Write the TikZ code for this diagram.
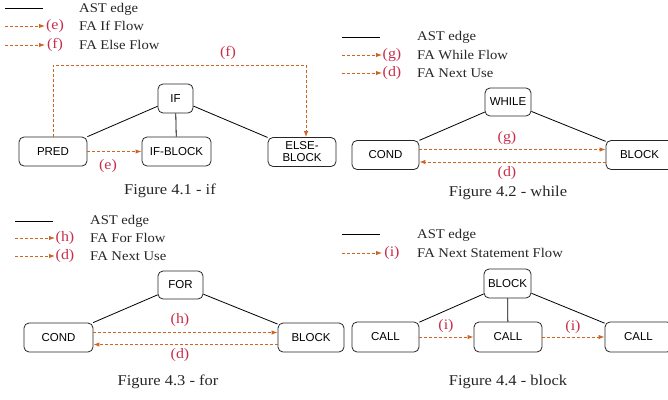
\documentclass[tikz,border=0pt]{standalone}
\usepackage{fontspec}
\setmainfont[FakeStretch=1.1]{Liberation Serif}
\newfontfamily\nodefont{Liberation Sans}
\usetikzlibrary{arrows.meta,calc}
\definecolor{flowcol}{RGB}{206,100,36}
\definecolor{labcol}{RGB}{200,45,75}
\tikzset{
  astnode/.style={draw=black!85, line width=0.8pt, rounded corners=5pt,
    minimum height=29pt, inner sep=1pt, font=\nodefont\fontsize{11.5}{12}\selectfont},
  astedge/.style={draw=black, line width=0.8pt},
  faflow/.style={draw=flowcol, line width=1pt, dash pattern=on 3pt off 2pt,
    -{Latex[length=6pt,width=4.5pt]}},
  flab/.style={text=labcol, font=\fontsize{14.5}{14.5}\selectfont, inner sep=0pt},
  legtext/.style={anchor=west, font=\fontsize{13.3}{13.3}\selectfont, inner sep=0pt, text=black!85},
  caption/.style={font=\fontsize{15}{15}\selectfont, inner sep=0pt, text=black!85}
}
\begin{document}
\begin{tikzpicture}[x=1pt,y=-1pt]
\useasboundingbox (0,0) rectangle (668,399);
\clip (0,0) rectangle (668,399);

% ---------- if ----------
\coordinate (l1a) at (5,8);   \coordinate (l1b) at (43,8);
\coordinate (l1c) at (5,26);  \coordinate (l1d) at (45,26);
\coordinate (l1e) at (5,45);  \coordinate (l1f) at (45,45);
\draw[astedge] (l1a) -- (l1b);
\draw[faflow] (l1c) -- (l1d);
\draw[faflow] (l1e) -- (l1f);
\node[legtext] (t1a) at (79,9) {AST edge};
\node[flab] (t1e) at (55,26) {(e)};
\node[legtext] (t1b) at (79,26) {FA If Flow};
\node[flab] (t1f) at (55,45) {(f)};
\node[legtext] (t1c) at (79,45) {FA Else Flow};

\node[astnode, minimum width=35pt] (if) at (175.5,98.5) {IF};
\node[astnode, minimum width=68pt] (pred) at (53,151.5) {PRED};
\node[astnode, minimum width=69pt] (ifb) at (176.5,151.5) {IF-BLOCK};
\node[astnode, minimum width=68pt, align=center] (elseb) at (302,152)
  {\fontsize{11.5}{13}\selectfont ELSE-\\BLOCK};
\draw[astedge] (if) -- (pred);
\draw[astedge] (if) -- (ifb);
\draw[astedge] (if) -- (elseb);
\coordinate (ftop) at (306,65);
\draw[faflow] (pred.north) |- (ftop) -- (ftop |- elseb.north);
\node[flab] (fl) at (228,53) {(f)};
\draw[faflow] (pred) -- (ifb);
\node[flab] (el) at (108,166) {(e)};
\node[caption] (cap1) at (170,191) {Figure 4.1 - if};

% ---------- while ----------
\coordinate (l2a) at (342,37);  \coordinate (l2b) at (380,37);
\coordinate (l2c) at (342,55);  \coordinate (l2d) at (382,55);
\coordinate (l2e) at (342,73);  \coordinate (l2f) at (382,73);
\draw[astedge] (l2a) -- (l2b);
\draw[faflow] (l2c) -- (l2d);
\draw[faflow] (l2e) -- (l2f);
\node[legtext] (t2a) at (417,37) {AST edge};
\node[flab] (t2g) at (392,55) {(g)};
\node[legtext] (t2b) at (417,55) {FA While Flow};
\node[flab] (t2d) at (392,73) {(d)};
\node[legtext] (t2c) at (417,73) {FA Next Use};

\node[astnode, minimum width=46pt, minimum height=28pt] (while) at (508,102) {WHILE};
\node[astnode, minimum width=67pt] (cond2) at (385.5,155) {COND};
\node[astnode, minimum width=67pt] (block2) at (639.5,155) {BLOCK};
\draw[astedge] (while) -- (cond2);
\draw[astedge] (while) -- (block2);
\draw[faflow] ([yshift=5.5pt]cond2.east) -- ([yshift=5.5pt]block2.west);
\draw[faflow] ([yshift=-7pt]block2.west) -- ([yshift=-7pt]cond2.east);
\node[flab] (gl) at (507,138) {(g)};
\node[flab] (dl2) at (507,173) {(d)};
\node[caption] (cap2) at (508,193) {Figure 4.2 - while};

% ---------- for ----------
\coordinate (l3a) at (15,221);  \coordinate (l3b) at (53,221);
\coordinate (l3c) at (15,238);  \coordinate (l3d) at (55,238);
\coordinate (l3e) at (15,256);  \coordinate (l3f) at (55,256);
\draw[astedge] (l3a) -- (l3b);
\draw[faflow] (l3c) -- (l3d);
\draw[faflow] (l3e) -- (l3f);
\node[legtext] (t3a) at (90,221) {AST edge};
\node[flab] (t3h) at (65,238) {(h)};
\node[legtext] (t3b) at (90,238) {FA For Flow};
\node[flab] (t3d) at (65,256) {(d)};
\node[legtext] (t3c) at (90,256) {FA Next Use};

\node[astnode, minimum width=45pt, minimum height=28pt] (for) at (180.5,285) {FOR};
\node[astnode, minimum width=69pt] (cond3) at (58.5,337.5) {COND};
\node[astnode, minimum width=66pt] (block3) at (311,337.5) {BLOCK};
\draw[astedge] (for) -- (cond3);
\draw[astedge] (for) -- (block3);
\draw[faflow] ([yshift=5pt]cond3.east) -- ([yshift=5pt]block3.west);
\draw[faflow] ([yshift=-7pt]block3.west) -- ([yshift=-7pt]cond3.east);
\node[flab] (hl) at (180,320) {(h)};
\node[flab] (dl3) at (180,355) {(d)};
\node[caption] (cap3) at (168,382) {Figure 4.3 - for};

% ---------- block ----------
\coordinate (l4a) at (342,234);  \coordinate (l4b) at (380,234);
\coordinate (l4c) at (342,253);  \coordinate (l4d) at (382,253);
\draw[astedge] (l4a) -- (l4b);
\draw[faflow] (l4c) -- (l4d);
\node[legtext] (t4a) at (417,235) {AST edge};
\node[flab] (t4i) at (392,253) {(i)};
\node[legtext] (t4b) at (417,253) {FA Next Statement Flow};

\node[astnode, minimum width=47pt] (blk) at (507.5,283.5) {BLOCK};
\node[astnode, minimum width=67pt, minimum height=30pt] (call1) at (385.5,337) {CALL};
\node[astnode, minimum width=68pt, minimum height=30pt] (call2) at (508,337) {CALL};
\node[astnode, minimum width=67pt, minimum height=30pt] (call3) at (638.5,337) {CALL};
\draw[astedge] (blk) -- (call1);
\draw[astedge] (blk) -- (call2);
\draw[astedge] (blk) -- (call3);
\draw[faflow] (call1) -- (call2);
\draw[faflow] (call2) -- (call3);
\node[flab] (il1) at (446,326) {(i)};
\node[flab] (il2) at (573,327) {(i)};
\node[caption] (cap4) at (508,382) {Figure 4.4 - block};
\end{tikzpicture}
\end{document}
